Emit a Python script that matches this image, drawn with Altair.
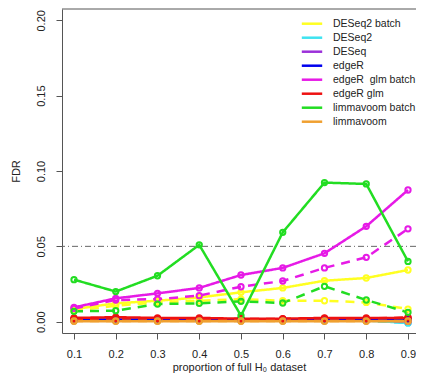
import altair as alt
import pandas as pd

proportions = [0.1, 0.2, 0.3, 0.4, 0.5, 0.6, 0.7, 0.8, 0.9]

methods = ["DESeq2 batch", "DESeq2", "DESeq", "edgeR", "edgeR\u00a0 glm batch",
           "edgeR glm", "limmavoom batch", "limmavoom"]
colors = ["#FFFF22", "#3FE3F0", "#9B30D9", "#0000EE", "#E61AE6",
          "#EE1111", "#22DD22", "#F0A030"]

# solid lines
solid = {
    "DESeq2 batch":     [0.0084, 0.0122, 0.0139, 0.0161, 0.0195, 0.0224, 0.0272, 0.0290, 0.0343],
    "DESeq2":           [0.0008, 0.0008, 0.0008, 0.0008, 0.0008, 0.0008, 0.0008, 0.0008, -0.0008],
    "DESeq":            [0.0010, 0.0010, 0.0010, 0.0010, 0.0010, 0.0010, 0.0010, 0.0010, 0.0003],
    "edgeR":            [0.0015, 0.0015, 0.0015, 0.0015, 0.0015, 0.0015, 0.0015, 0.0015, 0.0015],
    "edgeR\u00a0 glm batch": [0.0095, 0.0155, 0.0188, 0.0224, 0.0310, 0.0357, 0.0454, 0.0633, 0.0874],
    "edgeR glm":        [0.0025, 0.0030, 0.0025, 0.0025, 0.0020, 0.0020, 0.0025, 0.0025, 0.0025],
    "limmavoom batch":  [0.0279, 0.0200, 0.0305, 0.0510, 0.0040, 0.0593, 0.0923, 0.0914, 0.0400],
    "limmavoom":        [0.0003, 0.0003, 0.0003, 0.0003, 0.0003, 0.0003, 0.0003, 0.0003, 0.0003],
}

# dashed lines
dashed = {
    "DESeq2 batch":     [0.0073, 0.0106, 0.0128, 0.0139, 0.0150, 0.0139, 0.0139, 0.0128, 0.0084],
    "DESeq2":           [0.0006, 0.0006, 0.0006, 0.0006, 0.0006, 0.0006, 0.0006, 0.0006, -0.0008],
    "DESeq":            [0.0012, 0.0012, 0.0012, 0.0012, 0.0012, 0.0012, 0.0012, 0.0012, 0.0002],
    "edgeR":            [0.0016, 0.0016, 0.0016, 0.0016, 0.0016, 0.0016, 0.0016, 0.0016, 0.0016],
    "edgeR\u00a0 glm batch": [0.0088, 0.0144, 0.0150, 0.0173, 0.0232, 0.0270, 0.0357, 0.0427, 0.0616],
    "edgeR glm":        [0.0018, 0.0022, 0.0020, 0.0018, 0.0018, 0.0018, 0.0022, 0.0020, 0.0028],
    "limmavoom batch":  [0.0069, 0.0073, 0.0117, 0.0122, 0.0135, 0.0124, 0.0235, 0.0144, 0.0062],
    "limmavoom":        [0.0005, 0.0005, 0.0005, 0.0005, 0.0005, 0.0005, 0.0005, 0.0005, 0.0005],
}

threshold = [0.05]
y_ticks = [0.0, 0.05, 0.10, 0.15, 0.20]

rows = []
for i, m in enumerate(methods):
    for variant, src in (("solid", solid), ("dashed", dashed)):
        for p, v in zip(proportions, src[m]):
            rows.append({"proportion": p, "FDR": v, "method": m,
                         "variant": variant, "grp": f"{i}_{variant}"})
df = pd.DataFrame(rows)

W, H = 354, 324
x_scale = alt.Scale(domain=[0.07126, 0.91917], nice=False, zero=False)
y_scale = alt.Scale(domain=[-0.0075, 0.2075], nice=False, zero=False)
color_scale = alt.Scale(domain=methods, range=colors)
dash_scale = alt.Scale(domain=["solid", "dashed"], range=[[1, 0], [9, 7]])

x_enc = alt.X("proportion:Q", scale=x_scale,
              axis=alt.Axis(values=proportions, format=".1f",
                            title="proportion of full H₀ dataset",
                            tickSize=6, labelPadding=9, titlePadding=2))
y_enc = alt.Y("FDR:Q", scale=y_scale,
              axis=alt.Axis(values=y_ticks, format=".2f", title="FDR",
                            labelAngle=270, labelAlign="center",
                            labelBaseline="bottom", tickSize=6,
                            labelPadding=10, titlePadding=14))

base = alt.Chart(df)

lines = base.mark_line(strokeWidth=2.5).encode(
    x=x_enc, y=y_enc,
    color=alt.Color("method:N", scale=color_scale, sort=methods,
                    legend=alt.Legend(title=None, orient="none",
                                      legendX=241.5, legendY=6.2,
                                      symbolType="M-1.5,0H1.5",
                                      symbolSize=185, symbolStrokeWidth=2.5,
                                      labelFontSize=10.5, labelOffset=12.5,
                                      rowPadding=0, padding=0,
                                      labelColor="#222",
                                      labelFont="Liberation Sans",
                                      labelLimit=200)),
    strokeDash=alt.StrokeDash("variant:N", scale=dash_scale, legend=None),
    detail="grp:N",
)

points = base.mark_point(shape="circle", filled=False, size=28,
                         strokeWidth=2, opacity=1).encode(
    x="proportion:Q", y="FDR:Q",
    color=alt.Color("method:N", scale=color_scale, legend=None),
)

ref = alt.Chart(pd.DataFrame({"y": threshold})).mark_rule(
    color="#666", strokeWidth=1, strokeDash=[6, 3, 1, 3]
).encode(y="y:Q")

top = alt.Chart(pd.DataFrame({"y": [0.2075]})).mark_rule(
    color="#555", strokeWidth=1
).encode(y="y:Q")

chart = alt.layer(ref, lines, points, top).properties(
    width=W, height=H,
    background="white",
    autosize=alt.AutoSizeParams(type="none"),
    padding={"left": 54, "top": 1, "right": 0, "bottom": 43},
).configure_view(stroke=None).configure_axis(
    grid=False, domainColor="#555", tickColor="#555", domainWidth=1,
    labelFont="Liberation Sans", titleFont="Liberation Sans",
    labelFontSize=11, titleFontSize=11, labelColor="#222",
    titleColor="#222", titleFontWeight="normal",
)

chart.save("out.html", embed_options={"renderer": "svg", "actions": False})
